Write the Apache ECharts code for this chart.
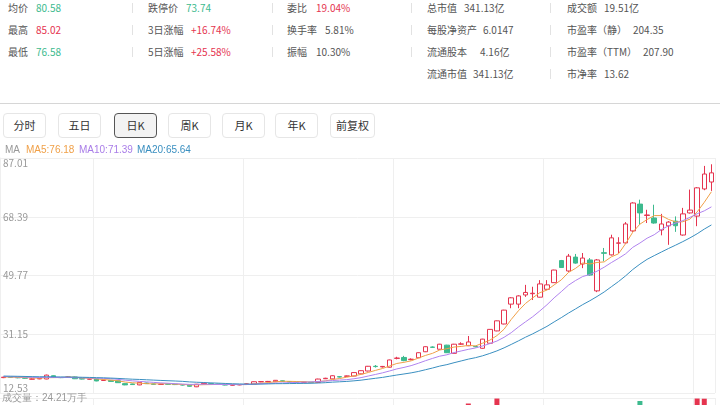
<!DOCTYPE html>
<html>
<head>
<meta charset="utf-8" />
<title>日K</title>
<script src="https://cdn.jsdelivr.net/npm/echarts@6/dist/echarts.min.js"></script>
<style>
    body { margin: 0; width: 720px; height: 405px; overflow: hidden; background: #fff;
           font-family: "Noto Sans CJK SC", "Noto Sans", sans-serif; position: relative; }
    .k, .v { position: absolute; font-size: 10px; line-height: 12px; white-space: nowrap; }
    .k { color: #555; }
    .v { color: #555; }
    .r { color: #e5344f; }
    .g { color: #3dba8e; }
    .sep { position: absolute; width: 1px; height: 10px; background: #e2e2e2; }
    .btn { position: absolute; top: 113px; height: 23px; line-height: 23px; width: 41px; text-align: center;
           font-size: 11px; color: #333; border: 1px solid #e6e6e6; border-radius: 4px; background: #fff; }
    .btn.on { border-color: #555; background: #f3f3f3; }
    #main { position: absolute; left: 0; top: 140px; width: 720px; height: 340px; }
</style>
</head>
<body>
    <!-- 行情数据 -->
    <span class="k" style="left:8px;top:2px">均价</span><span class="v g" style="left:36px;top:2px">80.58</span>
    <span class="k" style="left:8px;top:24px">最高</span><span class="v r" style="left:36px;top:24px">85.02</span>
    <span class="k" style="left:8px;top:46px">最低</span><span class="v g" style="left:36px;top:46px">76.58</span>

    <span class="k" style="left:148px;top:2px">跌停价</span><span class="v g" style="left:186px;top:2px">73.74</span>
    <span class="k" style="left:148px;top:24px">3日涨幅</span><span class="v r" style="left:191px;top:24px">+16.74%</span>
    <span class="k" style="left:148px;top:46px">5日涨幅</span><span class="v r" style="left:191px;top:46px">+25.58%</span>

    <span class="k" style="left:287px;top:2px">委比</span><span class="v r" style="left:316px;top:2px">19.04%</span>
    <span class="k" style="left:287px;top:24px">换手率</span><span class="v" style="left:325px;top:24px">5.81%</span>
    <span class="k" style="left:287px;top:46px">振幅</span><span class="v" style="left:316px;top:46px">10.30%</span>

    <span class="k" style="left:427px;top:2px">总市值</span><span class="v" style="left:464px;top:2px">341.13亿</span>
    <span class="k" style="left:427px;top:24px">每股净资产</span><span class="v" style="left:483px;top:24px">6.0147</span>
    <span class="k" style="left:427px;top:46px">流通股本</span><span class="v" style="left:480px;top:46px">4.16亿</span>
    <span class="k" style="left:427px;top:68px">流通市值</span><span class="v" style="left:473px;top:68px">341.13亿</span>

    <span class="k" style="left:567px;top:2px">成交额</span><span class="v" style="left:604px;top:2px">19.51亿</span>
    <span class="k" style="left:567px;top:24px">市盈率（静）</span><span class="v" style="left:633px;top:24px">204.35</span>
    <span class="k" style="left:567px;top:46px">市盈率（TTM）</span><span class="v" style="left:643px;top:46px">207.90</span>
    <span class="k" style="left:567px;top:68px">市净率</span><span class="v" style="left:604px;top:68px">13.62</span>

    <div class="sep" style="left:132px;top:3px"></div><div class="sep" style="left:132px;top:25px"></div><div class="sep" style="left:132px;top:47px"></div>
    <div class="sep" style="left:272px;top:3px"></div><div class="sep" style="left:272px;top:25px"></div><div class="sep" style="left:272px;top:47px"></div>
    <div class="sep" style="left:411px;top:3px"></div><div class="sep" style="left:411px;top:25px"></div><div class="sep" style="left:411px;top:47px"></div>
    <div class="sep" style="left:550px;top:3px"></div><div class="sep" style="left:550px;top:25px"></div><div class="sep" style="left:550px;top:47px"></div><div class="sep" style="left:550px;top:69px"></div>

    <div style="position:absolute;left:0;top:103px;width:720px;height:1px;background:#d6d6d6"></div>

    <!-- 周期按钮 -->
    <div class="btn" style="left:3px">分时</div>
    <div class="btn" style="left:58px">五日</div>
    <div class="btn on" style="left:114px">日K</div>
    <div class="btn" style="left:168px">周K</div>
    <div class="btn" style="left:222px">月K</div>
    <div class="btn" style="left:275px">年K</div>
    <div class="btn" style="left:330px;width:43px">前复权</div>

    <div id="main"></div>

    <script type="text/javascript">
        // 日K数据 [开, 收, 低, 高]
        var kData = [
            [17.40, 17.55, 17.25, 17.70], [17.55, 17.45, 17.30, 17.70], [17.45, 17.35, 17.20, 17.60], [17.35, 17.20, 17.05, 17.45],
            [16.90, 17.00, 16.80, 17.25], [17.00, 17.15, 16.90, 17.30], [16.97, 18.20, 16.90, 18.35], [18.00, 17.45, 17.35, 18.10],
            [17.45, 17.40, 17.25, 17.60], [17.50, 17.60, 17.35, 17.75], [17.60, 17.05, 16.95, 17.70], [17.10, 16.95, 16.85, 17.20],
            [16.90, 17.00, 16.80, 17.15], [17.00, 16.35, 16.25, 17.05], [16.50, 16.60, 16.40, 16.75], [16.55, 16.20, 16.10, 16.60],
            [16.40, 15.80, 15.70, 16.45], [15.50, 15.10, 15.00, 15.60], [15.40, 15.20, 15.10, 15.50], [15.10, 15.90, 15.00, 16.00],
            [15.70, 15.50, 15.40, 15.80], [15.40, 15.30, 15.20, 15.50], [15.25, 15.35, 15.15, 15.45], [15.40, 15.30, 15.20, 15.50],
            [15.30, 15.20, 15.05, 15.40], [15.15, 15.05, 14.90, 15.25], [15.00, 14.65, 14.50, 15.10], [14.50, 15.30, 14.40, 15.40],
            [15.40, 15.60, 15.30, 15.75], [15.50, 15.40, 15.25, 15.60], [15.35, 15.25, 15.15, 15.45], [15.20, 15.05, 14.95, 15.30],
            [15.00, 15.10, 14.90, 15.20], [15.10, 15.20, 15.00, 15.30], [15.25, 15.45, 15.15, 15.55], [15.35, 16.10, 15.30, 16.20],
            [16.05, 16.15, 15.95, 16.30], [16.10, 16.20, 16.00, 16.35], [16.10, 16.55, 16.00, 16.65], [16.40, 16.20, 16.10, 16.50],
            [16.15, 16.00, 15.90, 16.25], [15.95, 15.90, 15.80, 16.05], [15.90, 15.95, 15.80, 16.05], [15.95, 15.85, 15.75, 16.00],
            [15.90, 16.95, 15.85, 17.05], [17.05, 17.20, 16.95, 17.35], [17.00, 18.00, 16.95, 18.10], [17.70, 17.60, 17.45, 17.85],
            [17.80, 17.95, 17.70, 18.05], [17.90, 19.00, 17.85, 19.10], [18.60, 19.60, 18.50, 19.70], [19.50, 21.00, 19.40, 21.10],
            [21.00, 20.90, 20.60, 21.40], [20.80, 20.95, 20.60, 21.10], [20.70, 23.00, 20.60, 23.10], [23.50, 23.60, 23.20, 24.00],
            [23.80, 22.80, 22.60, 24.30], [23.10, 23.25, 22.90, 23.50], [23.70, 25.30, 23.60, 25.40], [25.60, 27.20, 25.50, 27.30],
            [27.10, 27.00, 26.80, 27.30], [26.40, 28.00, 26.30, 28.10], [27.70, 25.30, 25.20, 27.80], [25.10, 28.00, 25.00, 28.10],
            [28.00, 28.10, 27.80, 28.60], [27.50, 28.70, 27.40, 30.60], [27.30, 27.20, 27.00, 27.50], [26.70, 29.60, 26.60, 29.70],
            [28.30, 32.70, 28.20, 32.80], [32.20, 35.40, 32.10, 35.50], [34.40, 38.80, 34.30, 38.90], [40.70, 42.70, 39.40, 42.90],
            [40.70, 43.30, 39.40, 43.50], [43.60, 44.40, 43.00, 46.80], [44.00, 44.15, 42.00, 46.20], [42.90, 47.10, 42.80, 48.30],
            [45.40, 46.80, 45.30, 48.30], [47.50, 51.50, 47.40, 51.60], [54.50, 52.30, 52.20, 54.70], [51.20, 55.90, 50.90, 56.60],
            [55.60, 53.70, 53.50, 56.60], [53.40, 55.30, 52.10, 56.90], [54.70, 49.90, 49.70, 55.30], [44.90, 54.70, 44.50, 55.00],
            [57.00, 56.80, 54.30, 58.50], [56.30, 61.70, 56.10, 62.70], [60.00, 60.10, 56.90, 61.90], [60.10, 66.10, 59.90, 66.70],
            [63.90, 72.75, 63.60, 73.00], [72.40, 69.60, 65.90, 73.80], [68.80, 68.95, 66.40, 70.60], [68.00, 66.40, 66.20, 72.20],
            [64.20, 66.10, 62.50, 69.30], [65.50, 66.70, 59.50, 67.00], [67.00, 65.54, 63.60, 68.50], [62.60, 69.30, 62.40, 71.20],
            [69.60, 70.50, 69.40, 77.00], [68.60, 77.55, 65.40, 77.80], [77.20, 81.93, 76.80, 84.50], [79.40, 82.30, 76.58, 85.02]
        ];
        // 区间前19日收盘价，用于均线
        var priorCloses = [18.3, 18.1, 18.2, 18.0, 17.9, 18.1, 18.2, 18.0, 17.8, 17.9, 18.1, 17.9, 17.8, 17.7, 17.9, 17.8, 17.7, 17.6, 17.5];
        // 成交量(万手)
        var volumes = [
            5.2, 4.1, 3.8, 4.5, 5.0, 3.9, 9.8, 7.2, 4.6, 4.0, 5.1, 4.3, 3.6, 5.8, 4.2, 3.9, 5.5, 7.1, 4.8, 6.9,
            4.4, 3.7, 3.5, 3.9, 4.1, 3.8, 5.2, 6.0, 4.5, 3.6, 3.4, 3.9, 3.3, 3.6, 4.8, 7.5, 5.9, 5.1, 6.8, 5.3,
            4.2, 3.8, 3.9, 4.0, 9.5, 8.1, 12.6, 9.8, 8.7, 13.2, 14.8, 18.5, 15.1, 12.4, 19.8, 16.2, 17.5, 13.9, 18.6, 21.3,
            16.8, 20.5, 24.6, 26.1, 22.3, 41.9, 28.4, 33.6, 38.2, 44.7, 39.5, 36.8, 38.9, 31.2, 29.6, 34.8, 27.5, 35.1, 37.9, 39.2,
            33.4, 30.8, 36.5, 40.1, 31.7, 35.9, 28.8, 37.4, 39.8, 43.3, 34.6, 32.2, 29.9, 31.5, 27.8, 36.1, 33.0, 44.7, 44.6, 24.21
        ];
        var monthStarts = [13, 34, 55, 76, 97];
        var maLabels = ['MA', 'MA5:76.18', 'MA10:71.39', 'MA20:65.64'];
        var volLabel = '成交量：24.21万手';
        var yMin = 12.53, yStep = 18.62;

        var RED = '#e5344f', GREEN = '#3dba8e';
        var days = kData.map(function(d, i) { return 'D' + (i + 1); });
        var allCloses = priorCloses.concat(kData.map(function(d) { return d[1]; }));

        function calcMA(n) {
            var out = [];
            for (var i = 0; i < kData.length; i++) {
                var end = i + priorCloses.length, s = 0;
                for (var j = end - n + 1; j <= end; j++) s += allCloses[j];
                out.push(+(s / n).toFixed(3));
            }
            return out;
        }

        var myChart = echarts.init(document.getElementById('main'));
        var gridLine = { show: true, lineStyle: { color: '#efefef', width: 1 } };
        var splitX = {
            show: true,
            interval: function(index) { return monthStarts.indexOf(index) >= 0; },
            lineStyle: { color: '#efefef', width: 1 }
        };

        myChart.setOption({
            animation: false,
            textStyle: { fontFamily: '"Noto Sans CJK SC", "Noto Sans", sans-serif' },
            grid: [
                { left: 0, right: 5, top: 18, height: 235 },
                { left: 0, right: 5, top: 258, height: 80 }
            ],
            xAxis: [{
                type: 'category', data: days, gridIndex: 0, boundaryGap: true,
                axisLine: { show: false }, axisTick: { show: false }, axisLabel: { show: false },
                splitLine: splitX
            }, {
                type: 'category', data: days, gridIndex: 1, boundaryGap: true,
                axisLine: { show: false }, axisTick: { show: false }, axisLabel: { show: false },
                splitLine: splitX
            }],
            yAxis: [{
                type: 'value', gridIndex: 0, scale: true,
                min: yMin, max: yMin + 4 * yStep, interval: yStep,
                axisLine: { show: true, lineStyle: { color: '#efefef' } },
                axisTick: { show: false },
                splitLine: gridLine,
                axisLabel: {
                    inside: true, margin: 3, color: '#999', fontSize: 10,
                    verticalAlignMinLabel: 'bottom', verticalAlignMaxLabel: 'top',
                    formatter: function(v) { return v.toFixed(2); }
                }
            }, {
                type: 'value', gridIndex: 1, min: 0, max: 45, interval: 45,
                axisLine: { show: false }, axisTick: { show: false }, axisLabel: { show: false },
                splitLine: gridLine
            }],
            graphic: [
                { type: 'text', left: 5, top: 5, style: { text: maLabels[0], fill: '#999', fontSize: 10 } },
                { type: 'text', left: 26, top: 5, style: { text: maLabels[1], fill: '#f0a048', fontSize: 10 } },
                { type: 'text', left: 79, top: 5, style: { text: maLabels[2], fill: '#a97de8', fontSize: 10 } },
                { type: 'text', left: 137, top: 5, style: { text: maLabels[3], fill: '#3a8fc0', fontSize: 10 } },
                { type: 'text', left: 2, top: 253, z: 100, style: { text: volLabel, fill: '#999', fontSize: 10 } }
            ],
            series: [{
                name: '日K', type: 'candlestick', data: kData, barWidth: 5,
                itemStyle: { color: '#fff', color0: GREEN, borderColor: RED, borderColor0: GREEN, borderWidth: 1 }
            }, {
                name: 'MA5', type: 'line', data: calcMA(5), showSymbol: false,
                lineStyle: { color: '#f0a048', width: 1 }
            }, {
                name: 'MA10', type: 'line', data: calcMA(10), showSymbol: false,
                lineStyle: { color: '#b083ee', width: 1 }
            }, {
                name: 'MA20', type: 'line', data: calcMA(20), showSymbol: false,
                lineStyle: { color: '#3a8fc0', width: 1 }
            }, {
                name: '成交量', type: 'bar', xAxisIndex: 1, yAxisIndex: 1, barWidth: 5,
                data: volumes.map(function(v, i) {
                    return { value: v, itemStyle: { color: kData[i][1] >= kData[i][0] ? RED : GREEN } };
                })
            }]
        });
    </script>
</body>
</html>
